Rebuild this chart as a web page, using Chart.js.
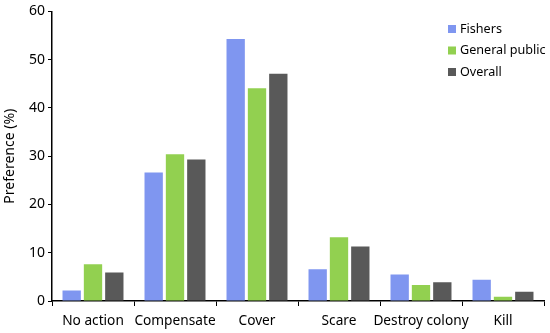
<!DOCTYPE html>
<html>
<head>
<meta charset="utf-8">
<script src="https://cdn.jsdelivr.net/npm/chart.js@4"></script>
<style>
html,body{margin:0;padding:0;background:#fff;}
#wrap{width:550px;height:333px;}
</style>
</head>
<body>
<div id="wrap"><canvas id="c" width="550" height="333"></canvas></div>
<script>
const categories = ["No action", "Compensate", "Cover", "Scare", "Destroy colony", "Kill"];
const seriesNames = ["Fishers", "General public", "Overall"];
const fishers = [2.2, 26.6, 54.3, 6.6, 5.5, 4.4];
const generalPublic = [7.6, 30.4, 44.1, 13.2, 3.3, 0.9];
const overall = [5.9, 29.3, 47.1, 11.3, 3.9, 1.9];
const yTicks = [0, 10, 20, 30, 40, 50, 60];
const colors = ["#7f96f0", "#92d050", "#595959"];

const FONT = "'Noto Sans', sans-serif";

const legendPlugin = {
  id: 'customLegend',
  afterDraw(chart) {
    const ctx = chart.ctx;
    ctx.save();
    ctx.font = "12.6px " + FONT;
    ctx.textBaseline = 'middle';
    chart.data.datasets.forEach((ds, i) => {
      const y = 29 + i * 21.5;
      ctx.fillStyle = ds.backgroundColor;
      ctx.fillRect(448, y - 4, 8, 8);
      ctx.fillStyle = '#000';
      ctx.fillText(ds.label, 460, y);
    });
    ctx.restore();
  }
};

new Chart(document.getElementById('c'), {
  type: 'bar',
  data: {
    labels: categories,
    datasets: [
      { label: seriesNames[0], data: fishers, backgroundColor: colors[0] },
      { label: seriesNames[1], data: generalPublic, backgroundColor: colors[1] },
      { label: seriesNames[2], data: overall, backgroundColor: colors[2] }
    ]
  },
  options: {
    responsive: false,
    animation: false,
    layout: { padding: { top: 9, right: 6, left: 0, bottom: 0 } },
    datasets: { bar: { categoryPercentage: 0.78, barPercentage: 0.86 } },
    plugins: { legend: { display: false }, tooltip: { enabled: false } },
    scales: {
      x: {
        grid: { display: true, drawOnChartArea: false, drawTicks: true, tickLength: 5, color: '#000', offset: true },
        border: { color: '#000', width: 1.5 },
        ticks: { color: '#000', font: { family: FONT, size: 13.7 }, padding: 7, maxRotation: 0, autoSkip: false },
        afterFit(s) { s.height = 32; }
      },
      y: {
        min: 0, max: 60,
        afterBuildTicks(s) { s.ticks = yTicks.map(v => ({ value: v })); },
        grid: { display: true, drawOnChartArea: false, drawTicks: true, tickLength: 4, color: '#000' },
        border: { color: '#000', width: 1.5 },
        ticks: { color: '#000', font: { family: FONT, size: 14 }, padding: 3 },
        title: { display: true, text: 'Preference (%)', color: '#000', font: { family: FONT, size: 14 }, padding: { top: 2, bottom: 2 } },
        afterFit(s) { s.width = 52; }
      }
    }
  },
  plugins: [legendPlugin]
});
</script>
</body>
</html>
